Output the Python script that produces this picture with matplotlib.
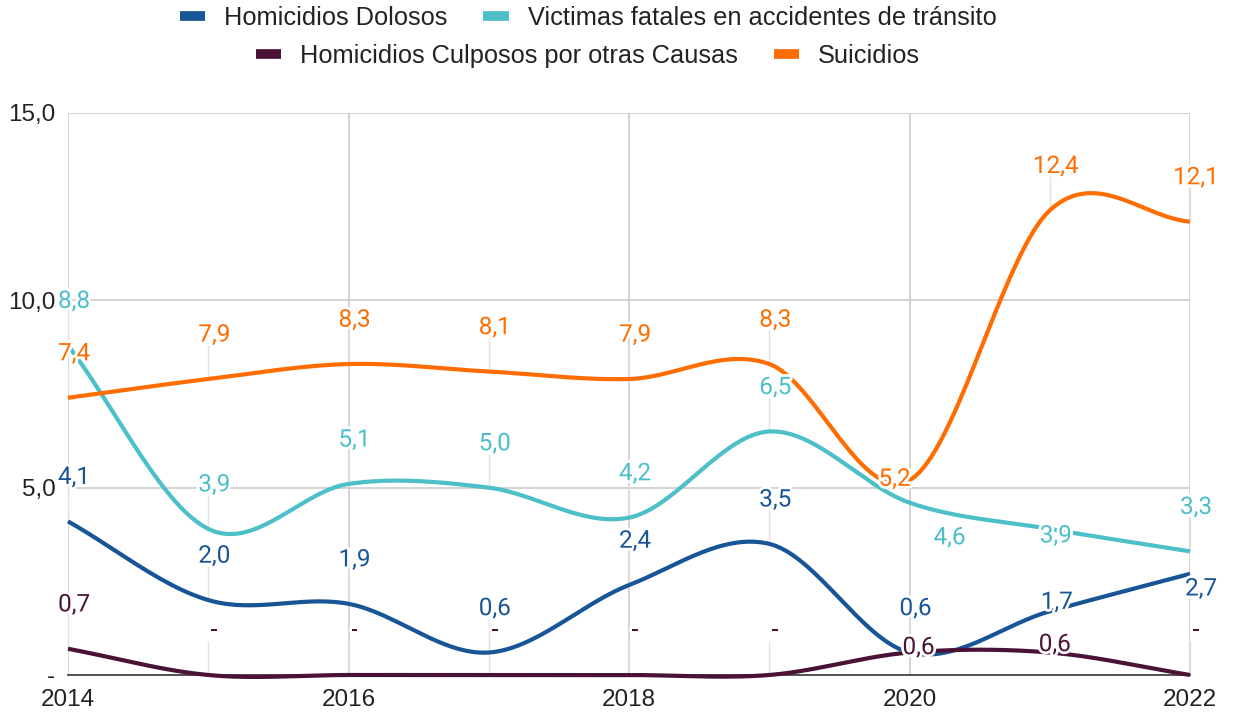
import numpy as np
import matplotlib
matplotlib.use("Agg")
import matplotlib.pyplot as plt
from matplotlib.lines import Line2D
import matplotlib.patheffects as pe

# ---------------- data ----------------
years = [2014, 2015, 2016, 2017, 2018, 2019, 2020, 2021, 2022]
series_names = ["Homicidios Dolosos", "Victimas fatales en accidentes de tránsito",
                "Homicidios Culposos por otras Causas", "Suicidios"]
homicidios_dolosos = [4.1, 2.0, 1.9, 0.6, 2.4, 3.5, 0.6, 1.7, 2.7]
victimas_transito = [8.8, 3.9, 5.1, 5.0, 4.2, 6.5, 4.6, 3.9, 3.3]
homicidios_culposos = [0.7, 0.0, 0.0, 0.0, 0.0, 0.0, 0.6, 0.6, 0.0]
suicidios = [7.4, 7.9, 8.3, 8.1, 7.9, 8.3, 5.2, 12.4, 12.1]
y_ticks = [0, 5, 10, 15]
y_tick_labels = ["-", "5,0", "10,0", "15,0"]
x_ticks = [2014, 2016, 2018, 2020, 2022]

# ---------------- style ----------------
colors = ["#175596", "#4cbfc9", "#4a1236", "#ff6d00"]
W, H, DPI = 1233, 720, 100
ax_left, ax_right, ax_bottom, ax_top = 68, 1190, 675, 113  # pixels
LABEL_FS = 17.5
EM_PX = LABEL_FS * DPI / 72.0

# label offsets in pixels (dx, dy) relative to the point; default above the point
default_off = (6, 46)
label_off = {
    (3, 6): (-15, 3),
    (1, 6): (40, -33),
    (1, 7): (6, -5),
    (0, 7): (7, 11),
    (0, 8): (11, -13),
    (2, 6): (9, 7),
    (2, 7): (5, 10),
}


def smooth(x, y, n=60):
    x = np.asarray(x, float)
    y = np.asarray(y, float)
    m = np.gradient(y, x)
    xs, ys = [], []
    for i in range(len(x) - 1):
        h = x[i + 1] - x[i]
        t = np.linspace(0, 1, n, endpoint=(i == len(x) - 2))
        h00 = 2 * t**3 - 3 * t**2 + 1
        h10 = t**3 - 2 * t**2 + t
        h01 = -2 * t**3 + 3 * t**2
        h11 = t**3 - t**2
        xs.append(x[i] + t * h)
        ys.append(h00 * y[i] + h10 * h * m[i] + h01 * y[i + 1] + h11 * h * m[i + 1])
    return np.concatenate(xs), np.concatenate(ys)


def fmt(v):
    return "-" if v == 0 else f"{v:.1f}".replace(".", ",")


fig = plt.figure(figsize=(W / DPI, H / DPI), dpi=DPI)
ax = fig.add_axes([ax_left / W, 1 - ax_bottom / H, (ax_right - ax_left) / W, (ax_bottom - ax_top) / H])

ax.set_xlim(years[0], years[-1])
ax.set_ylim(0, 15)
px_per_unit = (ax_bottom - ax_top) / 15.0

# grid
for xt in x_ticks:
    ax.axvline(xt, color="#cccccc", lw=1.2, zorder=0)
for yt in y_ticks[1:]:
    ax.axhline(yt, color="#cccccc", lw=1.2, zorder=0)
for s in ["left", "right", "top"]:
    ax.spines[s].set_visible(False)
ax.spines["bottom"].set_color("#333333")
ax.spines["bottom"].set_linewidth(1.2)
ax.spines["bottom"].set_zorder(1)

ax.set_xticks(x_ticks)
ax.set_xticklabels([str(v) for v in x_ticks], fontfamily="Liberation Sans", fontsize=17.5, color="#222222")
ax.set_yticks(y_ticks)
ax.set_yticklabels(y_tick_labels, fontfamily="Liberation Sans", fontsize=17.5, color="#222222")
ax.tick_params(axis="both", length=0)
ax.tick_params(axis="y", pad=9)
ax.tick_params(axis="x", pad=10)

all_series = [homicidios_dolosos, victimas_transito, homicidios_culposos, suicidios]

# stems under labels
for si, vals in enumerate(all_series):
    for i, v in enumerate(vals):
        dx, dy = label_off.get((si, i), default_off)
        if dy > 20:
            top = v + (dy - 12) / px_per_unit
            ax.plot([years[i], years[i]], [v, top], color="#e3e3e3", lw=1.0, zorder=1,
                    solid_capstyle="butt", clip_on=False)

# lines
draw_order = [2, 0, 1, 3]
for si in draw_order:
    xs, ys = smooth(years, all_series[si])
    ax.plot(xs, ys, color=colors[si], lw=3.0, zorder=3 + si * 0.1,
            solid_capstyle="butt", clip_on=False)

# labels
halo = [pe.withStroke(linewidth=4, foreground="white")]
for si, vals in enumerate(all_series):
    for i, v in enumerate(vals):
        dx, dy = label_off.get((si, i), default_off)
        ax.annotate(fmt(v), xy=(years[i], v), xytext=(dx, dy - 0.355 * EM_PX),
                    textcoords="offset pixels", ha="center", va="baseline",
                    fontfamily="Roboto", fontsize=LABEL_FS, color=colors[si],
                    path_effects=halo, zorder=6, annotation_clip=False)

# legends (two rows)
handles = [Line2D([], [], color=c, lw=7, solid_capstyle="butt") for c in colors]
leg_kw = dict(frameon=False, ncol=2, prop={"family": "Liberation Sans", "size": 18.3},
              handlelength=1.0, handletextpad=0.75, columnspacing=1.4,
              borderpad=0, borderaxespad=0, loc="center")
leg1 = fig.legend([handles[0], handles[1]], series_names[0:2],
                  bbox_to_anchor=(588 / W, 1 - 18 / H), **leg_kw)
for t in leg1.get_texts():
    t.set_color("#222222")
leg2 = fig.legend([handles[2], handles[3]], series_names[2:4],
                  bbox_to_anchor=(588 / W, 1 - 56 / H), **leg_kw)
for t in leg2.get_texts():
    t.set_color("#222222")

fig.savefig("out.png", dpi=DPI, facecolor="white")
